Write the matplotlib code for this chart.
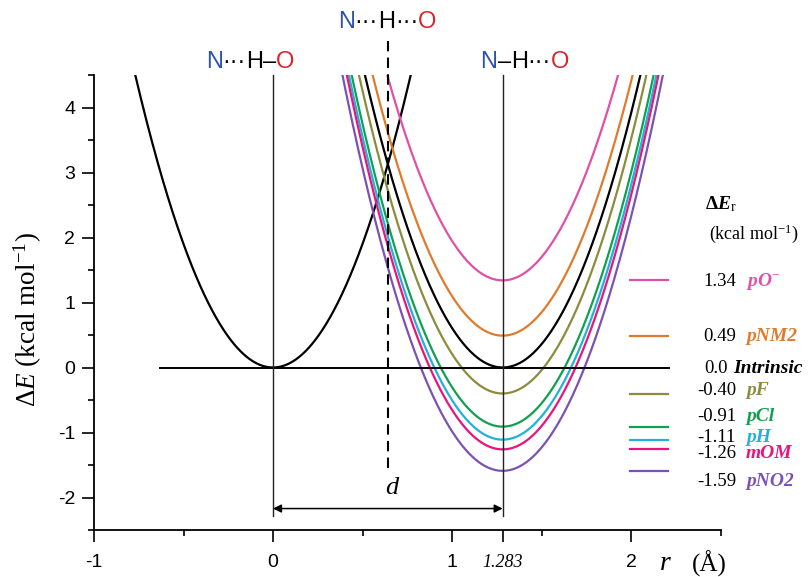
import matplotlib
matplotlib.use("Agg")
import matplotlib.pyplot as plt
import numpy as np
from matplotlib.offsetbox import TextArea, HPacker, AnnotationBbox
from matplotlib.ticker import MultipleLocator

plt.rcParams['font.family'] = ['Liberation Sans', 'DejaVu Sans']
plt.rcParams['axes.unicode_minus'] = False
plt.rcParams['mathtext.fontset'] = 'custom'
plt.rcParams['mathtext.rm'] = 'Liberation Serif'
plt.rcParams['mathtext.it'] = 'Liberation Serif:italic'
plt.rcParams['mathtext.bf'] = 'Liberation Serif:bold'
try:
    plt.rcParams['mathtext.bfit'] = 'Liberation Serif:bold:italic'
except KeyError:
    pass

# ---------------- data ----------------
r_left = 0.0          # N...H-O minimum position (Å)
r_right = 1.283       # N-H...O minimum position (Å)
k_force = 7.6         # curvature of wells (kcal mol^-1 Å^-2)
names = ['pO⁻', 'pNM2', 'Intrinsic', 'pF', 'pCl', 'pH', 'mOM', 'pNO2']
name_tex = [r'$\mathbfit{pO}^{-}$', 'pNM2', 'Intrinsic', 'pF', 'pCl', 'pH', 'mOM', 'pNO2']
dE_r = [1.34, 0.49, 0.0, -0.40, -0.91, -1.11, -1.26, -1.59]
dE_txt = ['1.34', '0.49', '0.0', '-0.40', '-0.91', '-1.11', '-1.26', '-1.59']
colors = ['#e050a8', '#e07a2c', '#000000', '#8c8c3c', '#10a050', '#1eb2dc', '#ea147a', '#7b52b4']
xtick_vals = [-1, 0, 1, 1.283, 2]
xtick_labels = ['-1', '0', '1', '1.283', '2']
ytick_vals = [-2, -1, 0, 1, 2, 3, 4]

# label layout (data-y of each legend text, after spreading)
label_y = [1.33, 0.48, -0.01, -0.36, -0.76, -1.07, -1.33, -1.76]

fig = plt.figure(figsize=(8.09, 5.77), dpi=100)
ax = fig.add_axes([94/809, 1-530/577, (720.5-94)/809, (530-75)/577])
ax.set_xlim(-1, 2.5)
ax.set_ylim(-2.5, 4.5)

# left well
xl = np.linspace(r_left - 0.9, r_left + 0.9, 400)
ax.plot(xl, k_force*(xl - r_left)**2, color='black', lw=1.6)

# right wells
xr = np.linspace(r_right - 1.0, r_right + 1.0, 400)
for e, c in zip(dE_r, colors):
    ax.plot(xr, k_force*(xr - r_right)**2 + e, color=c, lw=1.6)

# zero line (also intrinsic legend line)
ax.plot([-0.63, 2.21], [0, 0], color='black', lw=1.4, clip_on=False)

# vertical reference lines
ax.plot([r_left, r_left], [-2.28, 4.5], color='#222222', lw=1.0, clip_on=False)
ax.plot([r_right, r_right], [-2.28, 4.5], color='#222222', lw=1.0, clip_on=False)
ax.plot([r_right/2, r_right/2], [-1.55, 5.02], color='black', lw=1.5,
        ls=(0, (5, 3)), clip_on=False)

# d arrow
ax.annotate('', xy=(r_left, -2.17), xytext=(r_right, -2.17),
            arrowprops=dict(arrowstyle='<|-|>', color='black', lw=1.1,
                            mutation_scale=12, shrinkA=0, shrinkB=0))
ax.text(r_right/2 + 0.02, -1.86, 'd', fontsize=19, family='Liberation Serif',
        style='italic', ha='center', va='center')

# legend lines and texts
for i, (e, c) in enumerate(zip(dE_r, colors)):
    if names[i] != 'Intrinsic':
        ax.plot([1.995, 2.205], [e, e], color=c, lw=1.6, clip_on=False)
    if names[i] == 'Intrinsic':
        xn, xt = 2.54, 2.572
    else:
        xn, xt = 2.587, 2.642
    ax.text(xn, label_y[i], dE_txt[i], fontsize=13.5, family='Liberation Serif',
            ha='right', va='center', clip_on=False)
    ax.text(xt, label_y[i], name_tex[i], fontsize=14, family='Liberation Serif',
            weight='bold', style='italic', color=c, ha='left', va='center', clip_on=False)

ax.text(2.413, 2.52, r'$\mathbf{\Delta}\mathbfit{E}_{\mathrm{r}}$', fontsize=14,
        ha='left', va='center', clip_on=False)
ax.text(2.436, 2.06, r'(kcal mol$^{\mathrm{-1}}$)', fontsize=13, family='Liberation Serif',
        ha='left', va='center', clip_on=False)

# axes styling
for s in ['top', 'right']:
    ax.spines[s].set_visible(False)
for s in ['left', 'bottom']:
    ax.spines[s].set_linewidth(1.3)
ax.set_xticks(xtick_vals)
ax.set_xticklabels(xtick_labels)
ax.set_yticks(ytick_vals)
ax.xaxis.set_minor_locator(MultipleLocator(0.5))
ax.yaxis.set_minor_locator(MultipleLocator(0.5))
ax.tick_params(which='major', direction='out', length=8.5, width=1.2, labelsize=14)
ax.tick_params(which='minor', direction='out', length=4.5, width=1.2)
ax.tick_params(axis='x', which='major', pad=9)
ax.tick_params(axis='y', which='major', pad=5)
lab = ax.get_xticklabels()[3]
lab.set_fontfamily('Liberation Serif')
lab.set_fontstyle('italic')
lab.set_fontsize(13)

# axis titles
fig.text(28/809, 1-320/577, r'$\Delta E$ (kcal mol$^{\mathrm{-1}}$)', rotation=90,
         fontsize=19.5, family='Liberation Serif', ha='center', va='center')
ax.text(2.19, -3.02, 'r', fontsize=20, family='Liberation Serif', style='italic',
        ha='center', va='center', clip_on=False)
ax.text(2.34, -3.02, '(Å)', fontsize=18, family='Liberation Serif',
        ha='left', va='center', clip_on=False)

# molecule labels
BLUE, RED = '#2b52ad', '#d6262c'
def mol(parts, cx, cy):
    areas = [TextArea(t, textprops=dict(color=c, fontsize=17, family='Liberation Sans'))
             for t, c in parts]
    box = HPacker(children=areas, align='baseline', pad=0, sep=0)
    ab = AnnotationBbox(box, (cx, 577 - cy), xycoords='figure pixels', frameon=False,
                        box_alignment=(0.5, 0.5), pad=0)
    fig.add_artist(ab)

dots = '\u00b7\u00b7\u00b7'
mol([('N', BLUE), (dots, 'black'), ('H', 'black'), ('\u2013', 'black'), ('O', RED)], 250, 62)
mol([('N', BLUE), (dots, 'black'), ('H', 'black'), (dots, 'black'), ('O', RED)], 387, 22)
mol([('N', BLUE), ('\u2013', 'black'), ('H', 'black'), (dots, 'black'), ('O', RED)], 525, 62)

fig.savefig('out.png', dpi=100)
